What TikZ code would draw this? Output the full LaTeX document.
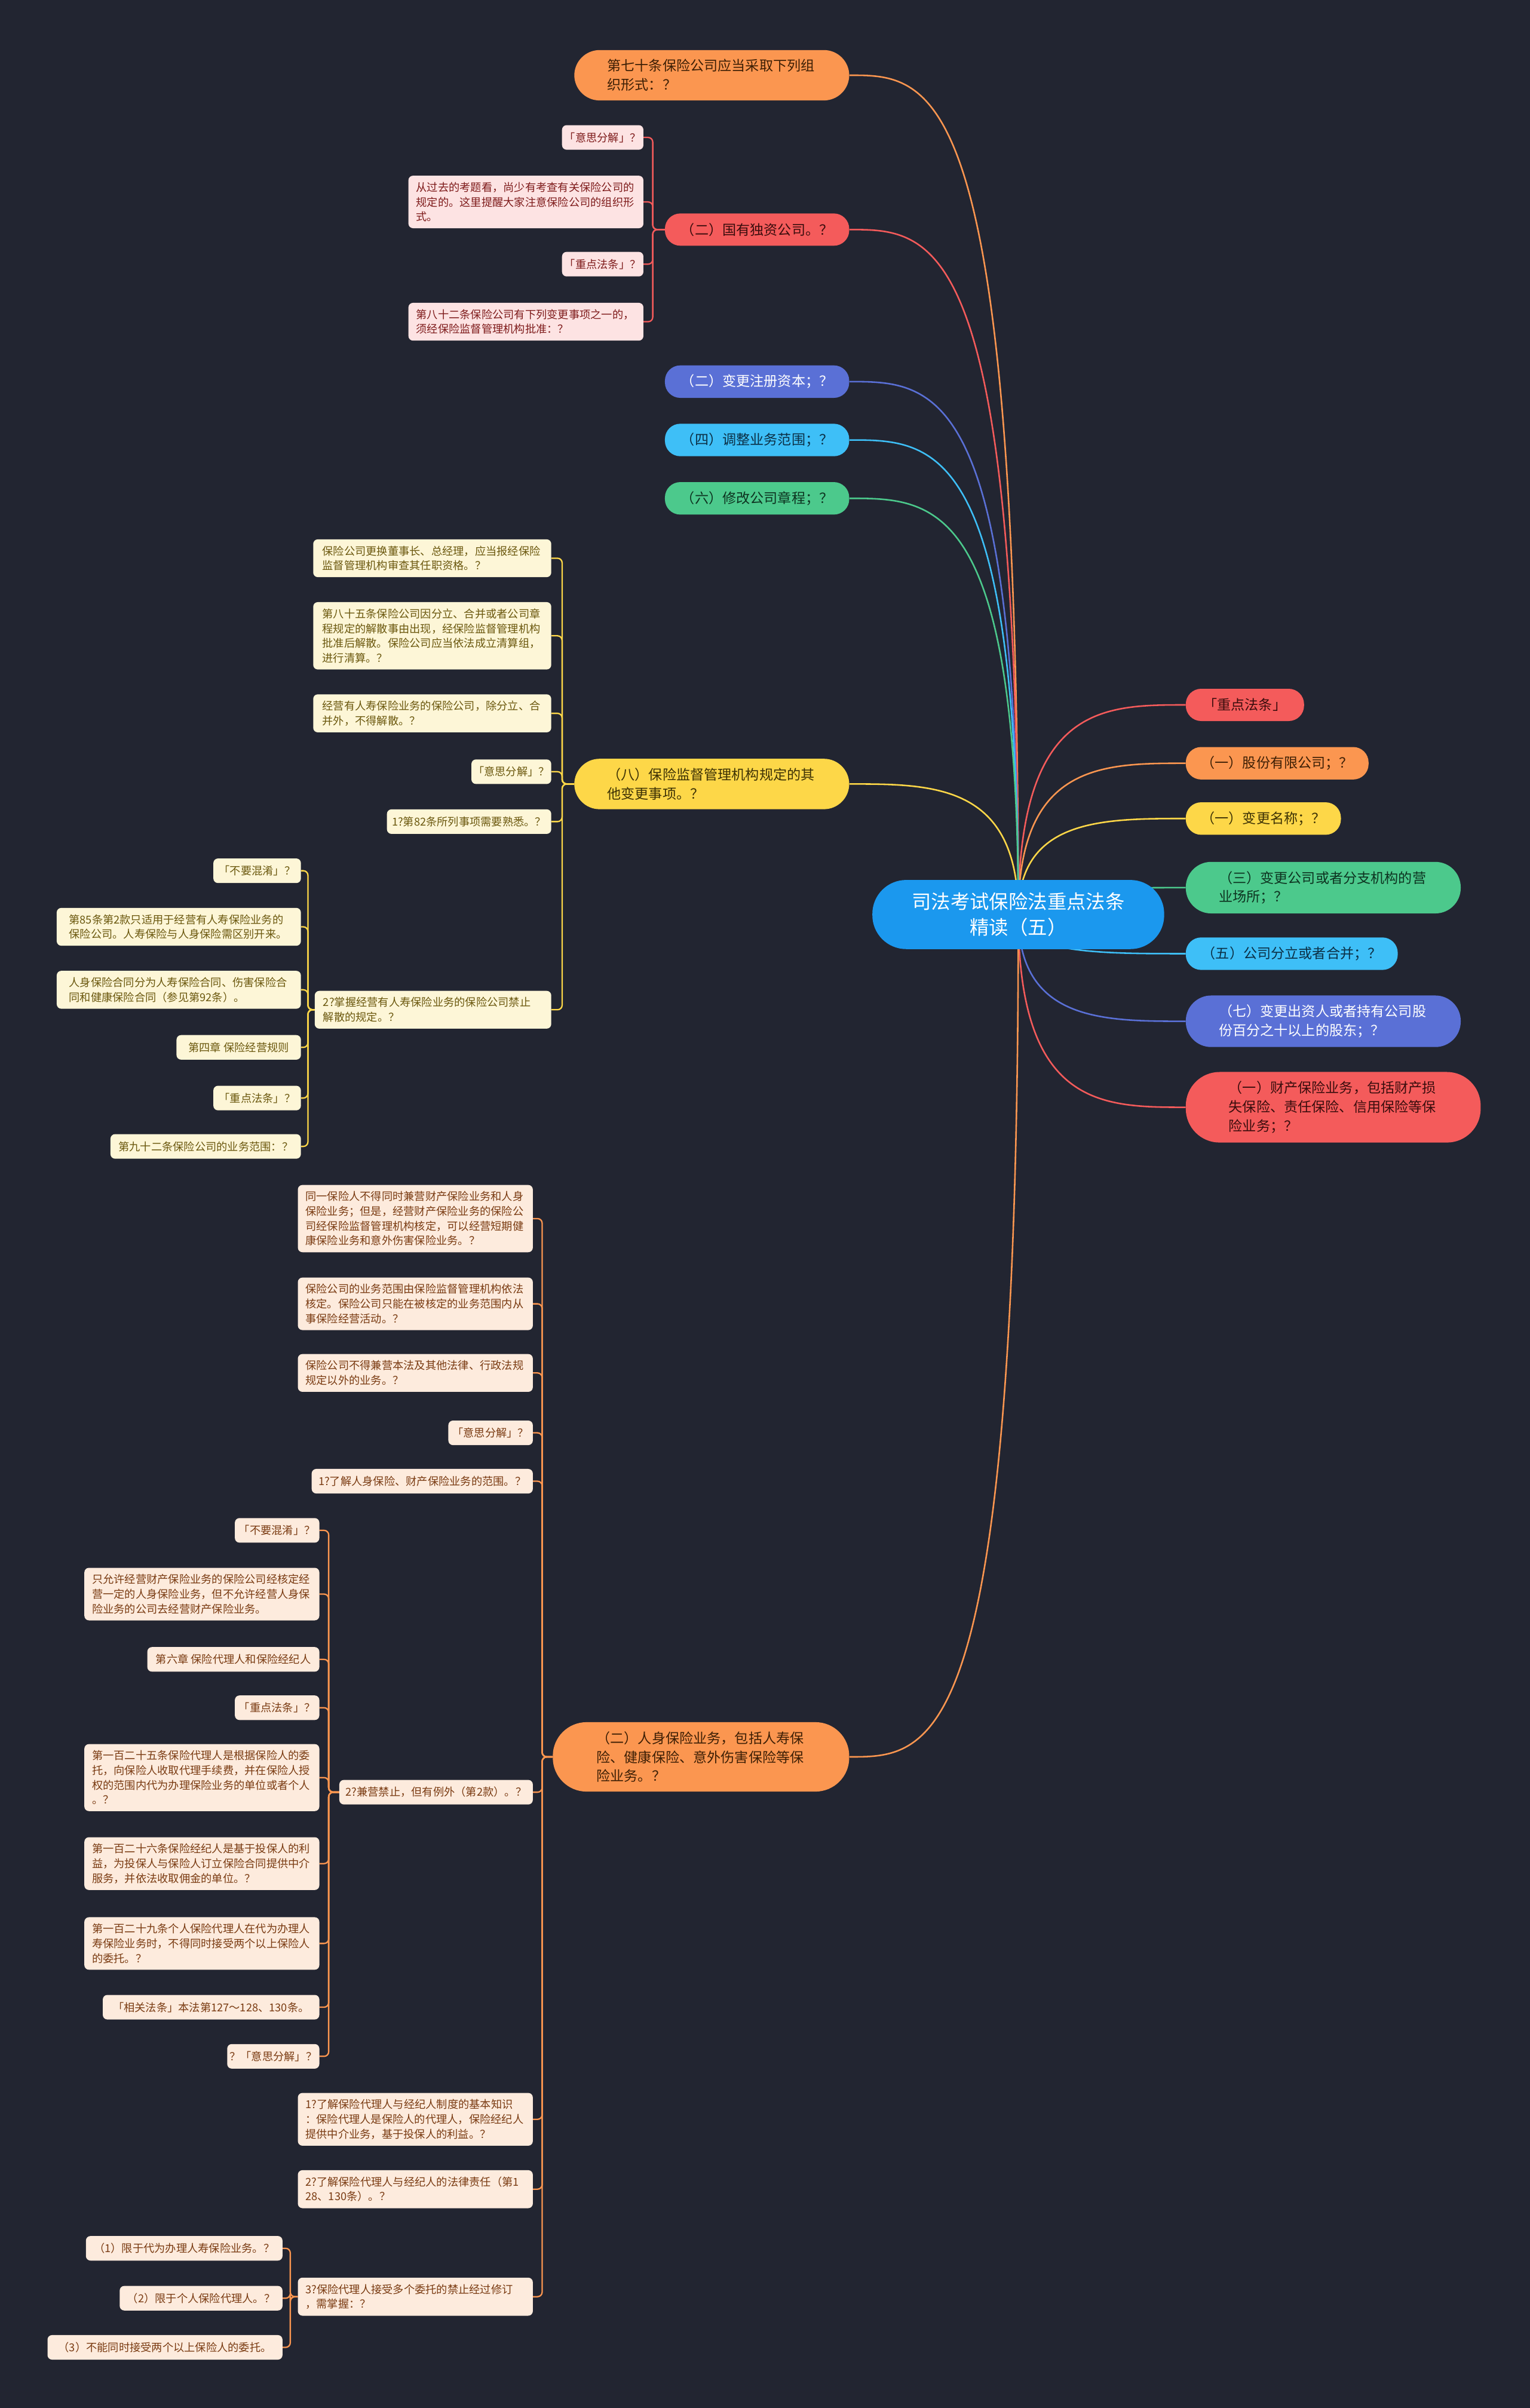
\documentclass[tikz,border=0pt]{standalone}
\usepackage{fontspec}
\setmainfont{Noto Sans CJK SC}
\usetikzlibrary{calc}
\pgfdeclarelayer{bgl}
\pgfdeclarelayer{edges}
\pgfsetlayers{bgl,edges,main}
\definecolor{bgcol}{HTML}{222531}
\definecolor{cRoot}{HTML}{1B98EE}
\definecolor{cRed}{HTML}{F45B5B}
\definecolor{cOrange}{HTML}{FB9650}
\definecolor{cYellow}{HTML}{FDD748}
\definecolor{cGreen}{HTML}{4CC98C}
\definecolor{cLBlue}{HTML}{3EBFF7}
\definecolor{cIndigo}{HTML}{5A70D6}
\definecolor{tRed}{HTML}{3A0D0D}
\definecolor{tOrange}{HTML}{3D1F05}
\definecolor{tYellow}{HTML}{3D3205}
\definecolor{tGreen}{HTML}{0D3320}
\definecolor{tLBlue}{HTML}{0B2F45}
\definecolor{fPink}{HTML}{FDE3E3}
\definecolor{tPink}{HTML}{7F1C1C}
\definecolor{fCream}{HTML}{FDF6D7}
\definecolor{tCream}{HTML}{6B580E}
\definecolor{fPeach}{HTML}{FDEBDD}
\definecolor{tPeach}{HTML}{7A3B12}
\newcommand\rlink[3]{\draw[rootedge,#1] (root.center) .. controls (root.center |- #2.#3) and ($(root.center |- #2.#3)!0.5!(#2.#3)$) .. (#2.#3);}
\newcommand\blink[4]{\draw[subedge,#1] (#3.east) -- ++(#4,0) |- (#2.west);}
\begin{document}
\begin{tikzpicture}[x=1mm,y=-1mm,
  base/.style={inner xsep=0pt, align=left},
  rootn/.style={base, fill=cRoot, text=white, align=center, font=\fontsize{12.6mm}{17mm}\selectfont, minimum width=190mm, minimum height=45mm, text width=150mm, rounded corners=22mm},
  lone/.style={base, font=\fontsize{9mm}{12.4mm}\selectfont, inner ysep=6mm, minimum height=21mm, rounded corners=10mm},
  ltwo/.style={lone, text width=136mm, rounded corners=16.5mm},
  lthree/.style={lone, text width=136mm, rounded corners=22mm},
  sm/.style={base, font=\fontsize{7.1mm}{9.6mm}\selectfont, inner ysep=4.2mm, minimum height=16mm, rounded corners=3mm, anchor=east},
  smm/.style={sm, text width=143mm},
  pink/.style={fill=fPink, text=tPink},
  cream/.style={fill=fCream, text=tCream},
  peach/.style={fill=fPeach, text=tPeach},
  rootedge/.style={line width=1mm},
  subedge/.style={line width=0.9mm, rounded corners=3mm}
]
\useasboundingbox (0,0) rectangle (996,1568);
\begin{pgfonlayer}{bgl}
\fill[bgcol] (0,0) rectangle (996,1568);
\end{pgfonlayer}

% root
\node[rootn] (root) at (663,595.5) {司法考试保险法重点法条\\精读（五）};

% right level-1
\node[lone, anchor=west, fill=cRed, text=tRed, minimum width=77mm] (R1) at (772,459) {「重点法条」};
\node[lone, anchor=west, fill=cOrange, text=tOrange, minimum width=119mm] (R2) at (772,497) {（一）股份有限公司；？};
\node[lone, anchor=west, fill=cYellow, text=tYellow, minimum width=101mm] (R3) at (772,533) {（一）变更名称；？};
\node[ltwo, anchor=west, fill=cGreen, text=tGreen, minimum width=179mm] (R4) at (772,578) {（三）变更公司或者分支机构的营\\业场所；？};
\node[lone, anchor=west, fill=cLBlue, text=tLBlue, minimum width=138mm] (R5) at (772,621) {（五）公司分立或者合并；？};
\node[ltwo, anchor=west, fill=cIndigo, text=white, minimum width=179mm] (R6) at (772,665) {（七）变更出资人或者持有公司股\\份百分之十以上的股东；？};
\node[lthree, anchor=west, fill=cRed, text=tRed, minimum width=192mm] (R7) at (772,721) {（一）财产保险业务，包括财产损\\失保险、责任保险、信用保险等保\\险业务；？};

% left level-1
\node[ltwo, anchor=east, fill=cOrange, text=tOrange, minimum width=179mm] (L1) at (553,49) {第七十条保险公司应当采取下列组\\织形式：？};
\node[lone, anchor=east, fill=cRed, text=tRed, minimum width=120mm] (L2) at (553,149.5) {（二）国有独资公司。？};
\node[lone, anchor=east, fill=cIndigo, text=white, minimum width=120mm] (L3) at (553,248.5) {（二）变更注册资本；？};
\node[lone, anchor=east, fill=cLBlue, text=tLBlue, minimum width=120mm] (L4) at (553,286.5) {（四）调整业务范围；？};
\node[lone, anchor=east, fill=cGreen, text=tGreen, minimum width=120mm] (L5) at (553,324.5) {（六）修改公司章程；？};
\node[ltwo, anchor=east, fill=cYellow, text=tYellow, minimum width=179mm] (L6) at (553,510.5) {（八）保险监督管理机构规定的其\\他变更事项。？};
\node[lthree, anchor=east, fill=cOrange, text=tOrange, minimum width=193mm] (L7) at (553,1144) {（二）人身保险业务，包括人寿保\\险、健康保险、意外伤害保险等保\\险业务。？};

% L2 children
\node[sm, pink, minimum width=53mm] (a1) at (419,89.5) {「意思分解」？};
\node[smm, pink, minimum width=153mm] (a2) at (419,131.5) {从过去的考题看，尚少有考查有关保险公司的\\规定的。这里提醒大家注意保险公司的组织形\\式。};
\node[sm, pink, minimum width=53mm] (a3) at (419,172) {「重点法条」？};
\node[smm, pink, minimum width=153mm] (a4) at (419,209.5) {第八十二条保险公司有下列变更事项之一的，\\须经保险监督管理机构批准：？};

% L6 children
\node[smm, cream, minimum width=155mm] (b1) at (359,363.5) {保险公司更换董事长、总经理，应当报经保险\\监督管理机构审查其任职资格。？};
\node[smm, cream, minimum width=155mm] (b2) at (359,414) {第八十五条保险公司因分立、合并或者公司章\\程规定的解散事由出现，经保险监督管理机构\\批准后解散。保险公司应当依法成立清算组，\\进行清算。？};
\node[smm, cream, minimum width=155mm] (b3) at (359,464.5) {经营有人寿保险业务的保险公司，除分立、合\\并外，不得解散。？};
\node[sm, cream, minimum width=52mm] (b4) at (359,502.5) {「意思分解」？};
\node[sm, cream, minimum width=107mm] (b5) at (359,535) {1?第82条所列事项需要熟悉。？};
\node[smm, cream, minimum width=154mm] (b6) at (359,657.5) {2?掌握经营有人寿保险业务的保险公司禁止\\解散的规定。？};

% b6 children
\node[sm, cream, minimum width=57mm] (c1) at (196,567) {「不要混淆」？};
\node[smm, cream, minimum width=159mm] (c2) at (196,603.5) {第85条第2款只适用于经营有人寿保险业务的\\保险公司。人寿保险与人身保险需区别开来。};
\node[smm, cream, minimum width=159mm] (c3) at (196,644.5) {人身保险合同分为人寿保险合同、伤害保险合\\同和健康保险合同（参见第92条）。};
\node[sm, cream, minimum width=81mm] (c4) at (196,682) {第四章 保险经营规则};
\node[sm, cream, minimum width=57mm] (c5) at (196,715) {「重点法条」？};
\node[sm, cream, minimum width=124mm] (c6) at (196,746.5) {第九十二条保险公司的业务范围：？};

% L7 children
\node[smm, peach, minimum width=153mm] (d1) at (347,793.5) {同一保险人不得同时兼营财产保险业务和人身\\保险业务；但是，经营财产保险业务的保险公\\司经保险监督管理机构核定，可以经营短期健\\康保险业务和意外伤害保险业务。？};
\node[smm, peach, minimum width=153mm] (d2) at (347,849) {保险公司的业务范围由保险监督管理机构依法\\核定。保险公司只能在被核定的业务范围内从\\事保险经营活动。？};
\node[smm, peach, minimum width=153mm] (d3) at (347,894) {保险公司不得兼营本法及其他法律、行政法规\\规定以外的业务。？};
\node[sm, peach, minimum width=55mm] (d4) at (347,933) {「意思分解」？};
\node[sm, peach, minimum width=144mm] (d5) at (347,964.5) {1?了解人身保险、财产保险业务的范围。？};
\node[sm, peach, minimum width=126mm] (d6) at (347,1167) {2?兼营禁止，但有例外（第2款）。？};
\node[smm, peach, minimum width=153mm] (d7) at (347,1380) {1?了解保险代理人与经纪人制度的基本知识\\：保险代理人是保险人的代理人，保险经纪人\\提供中介业务，基于投保人的利益。？};
\node[smm, peach, minimum width=153mm] (d8) at (347,1425.5) {2?了解保险代理人与经纪人的法律责任（第1\\28、130条）。？};
\node[smm, peach, minimum width=153mm] (d9) at (347,1495.5) {3?保险代理人接受多个委托的禁止经过修订\\，需掌握：？};

% d6 children
\node[sm, peach, minimum width=55mm] (e1) at (208,996.5) {「不要混淆」？};
\node[smm, peach, minimum width=153mm] (e2) at (208,1038) {只允许经营财产保险业务的保险公司经核定经\\营一定的人身保险业务，但不允许经营人身保\\险业务的公司去经营财产保险业务。};
\node[sm, peach, minimum width=112mm] (e3) at (208,1080.5) {第六章 保险代理人和保险经纪人};
\node[sm, peach, minimum width=55mm] (e4) at (208,1112) {「重点法条」？};
\node[smm, peach, minimum width=153mm] (e5) at (208,1157.5) {第一百二十五条保险代理人是根据保险人的委\\托，向保险人收取代理手续费，并在保险人授\\权的范围内代为办理保险业务的单位或者个人\\。？};
\node[smm, peach, minimum width=153mm] (e6) at (208,1213.5) {第一百二十六条保险经纪人是基于投保人的利\\益，为投保人与保险人订立保险合同提供中介\\服务，并依法收取佣金的单位。？};
\node[smm, peach, minimum width=153mm] (e7) at (208,1265.5) {第一百二十九条个人保险代理人在代为办理人\\寿保险业务时，不得同时接受两个以上保险人\\的委托。？};
\node[sm, peach, minimum width=141mm] (e8) at (208,1307) {「相关法条」本法第127～128、130条。};
\node[sm, peach, minimum width=60mm] (e9) at (208,1339) {？「意思分解」？};

% d9 children
\node[sm, peach, minimum width=128mm] (f1) at (184,1464) {（1）限于代为办理人寿保险业务。？};
\node[sm, peach, minimum width=106mm] (f2) at (184,1496.5) {（2）限于个人保险代理人。？};
\node[sm, peach, minimum width=153mm] (f3) at (184,1528.5) {（3）不能同时接受两个以上保险人的委托。};

\begin{pgfonlayer}{edges}
\rlink{cRed}{R1}{west}
\rlink{cOrange}{R2}{west}
\rlink{cYellow}{R3}{west}
\rlink{cGreen}{R4}{west}
\rlink{cLBlue}{R5}{west}
\rlink{cIndigo}{R6}{west}
\rlink{cRed}{R7}{west}
\rlink{cOrange}{L1}{east}
\rlink{cRed}{L2}{east}
\rlink{cIndigo}{L3}{east}
\rlink{cLBlue}{L4}{east}
\rlink{cGreen}{L5}{east}
\rlink{cYellow}{L6}{east}
\rlink{cOrange}{L7}{east}
\foreach \c in {a1,a2,a3,a4} {\blink{cRed}{L2}{\c}{6}}
\foreach \c in {b1,b2,b3,b4,b5,b6} {\blink{cYellow}{L6}{\c}{7}}
\foreach \c in {c1,c2,c3,c4,c5,c6} {\blink{cYellow}{b6}{\c}{4.5}}
\foreach \c in {d1,d2,d3,d4,d5,d6,d7,d8,d9} {\blink{cOrange}{L7}{\c}{6}}
\foreach \c in {e1,e2,e3,e4,e5,e6,e7,e8,e9} {\blink{cOrange}{d6}{\c}{6}}
\foreach \c in {f1,f2,f3} {\blink{cOrange}{d9}{\c}{5}}
\end{pgfonlayer}
\end{tikzpicture}
\end{document}
